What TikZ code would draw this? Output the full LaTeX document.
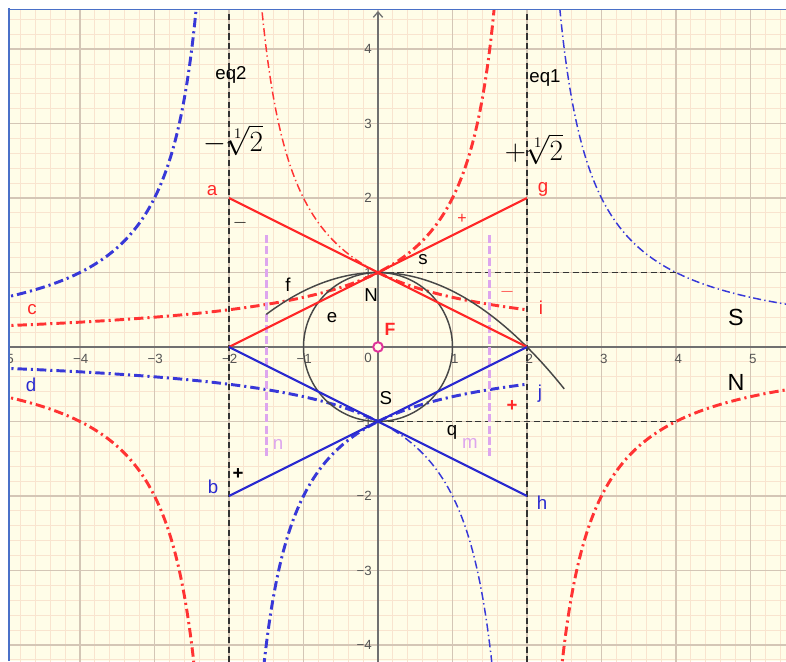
\RequirePackage{fix-cm}
\documentclass[tikz,border=0pt]{standalone}
\usepackage[no-math]{fontspec}
\setmainfont{Liberation Sans}
\usetikzlibrary{arrows.meta}
\definecolor{bgc}{HTML}{FFFDE8}
\definecolor{minorc}{HTML}{F9E4CF}
\definecolor{majorc}{HTML}{D4C6B6}
\definecolor{axisc}{HTML}{707070}
\definecolor{brd}{HTML}{4A70C8}
\definecolor{rc}{HTML}{FF3333}
\definecolor{rl}{HTML}{FF2828}
\definecolor{bc}{HTML}{3838D8}
\definecolor{bl}{HTML}{2A2AD0}
\definecolor{vc}{HTML}{DDA6EE}
\definecolor{fc}{HTML}{E0339A}
\definecolor{dk}{HTML}{333333}
\definecolor{ticc}{HTML}{555555}
\tikzset{
  tick/.style={text=ticc,font=\fontsize{10}{11}\selectfont,inner sep=0pt},
  lbl/.style={font=\fontsize{14}{15}\selectfont,inner sep=0pt},
  biglbl/.style={font=\fontsize{17.5}{18}\selectfont,inner sep=0pt},
  thickdd/.style={line width=2.2pt,dash pattern=on 7pt off 3pt on 1.6pt off 3pt},
  thindd/.style={line width=1.1pt,dash pattern=on 6pt off 2.5pt on 1pt off 2.5pt},
  blkdash/.style={dk,line width=1.4pt,dash pattern=on 4.6pt off 2.7pt},
  viodash/.style={vc,line width=2.3pt,dash pattern=on 6pt off 2.4pt},
  segline/.style={line width=1.6pt},
  curveblk/.style={draw=dk!90!white,line width=1.1pt},
  rootlbl/.style={inner sep=0pt,font=\fontsize{22}{24}\selectfont}
}
\begin{document}
\begin{tikzpicture}[x=55.875pt,y=55.875pt]
\useasboundingbox (-5.0738,-4.2148) rectangle (5.4765,4.6577);
\fill[white] (-5.0738,-4.2148) rectangle (5.4765,4.6577);
\fill[bgc] (-4.953,-4.2148) rectangle (5.4765,4.530);
\begin{scope}
\clip (-4.953,-4.2148) rectangle (5.4765,4.530);
\draw[minorc,line width=0.6pt,step=0.2] (-5.2,-4.4) grid (5.6,4.8);
\draw[majorc,line width=0.8pt,step=1] (-5.2,-4.4) grid (5.6,4.8);
% axes
\draw[axisc,line width=1pt] (-5.2,0) -- (5.6,0);
\draw[axisc,line width=1pt,-{Straight Barb[length=4pt,width=7pt]}] (0,-4.4) -- (0,4.51);
% tick labels
\foreach \v in {1,...,5} \node[tick] at (\v+0.03,-0.165) {\v};
\foreach \v in {1,...,5} \node[tick] at (-\v+0.01,-0.165) {−\v};
\node[tick] at (-0.134,-0.15) {0};
\foreach \v in {1,...,4} \node[tick,anchor=east] at (-0.08,\v) {\v};
\foreach \v in {1,...,4} \node[tick,anchor=east] at (-0.08,-\v) {−\v};
% coordinates
\coordinate (a) at (-2,2);
\coordinate (g) at (2,2);
\coordinate (b) at (-2,-2);
\coordinate (h) at (2,-2);
\coordinate (Np) at (0,1);
\coordinate (Sp) at (0,-1);
\coordinate (Lp) at (-2,0);
\coordinate (Rp) at (2,0);
\coordinate (O) at (0,0);
\coordinate (e2t) at (-2,4.6);
\coordinate (e2b) at (-2,-4.3);
\coordinate (e1t) at (2,4.6);
\coordinate (e1b) at (2,-4.3);
\coordinate (sE) at (4,1);
\coordinate (qE) at (4,-1);
\coordinate (nT) at (-1.5,1.5);
\coordinate (nB) at (-1.5,-1.5);
\coordinate (mT) at (1.5,1.5);
\coordinate (mB) at (1.5,-1.5);
% red dash-dot curves
\draw[rc,thickdd,smooth,samples=200] plot[domain=-5.1:1.575] (\x,{2/(2-\x)});
\draw[rc,thickdd,smooth,samples=60] plot[domain=0:2] (\x,{2/(2+\x)});
\draw[rc,thickdd,smooth,samples=120] plot[domain=-5.1:-2.455] (\x,{2/(2+\x)});
\draw[rc,thickdd,smooth,samples=120] plot[domain=2.455:5.6] (\x,{2/(2-\x)});
\draw[rc,thindd,smooth,samples=120] plot[domain=-1.575:0] (\x,{2/(2+\x)});
% blue dash-dot curves
\draw[bc,thickdd,smooth,samples=120] plot[domain=-5.1:0] (\x,{-2/(2-\x)});
\draw[bc,thickdd,smooth,samples=60] plot[domain=0:2] (\x,{-2/(2+\x)});
\draw[bc,thickdd,smooth,samples=120] plot[domain=-1.535:0] (\x,{-2/(2+\x)});
\draw[bc,thickdd,smooth,samples=120] plot[domain=-5.1:-2.44] (\x,{-2/(2+\x)});
\draw[bc,thindd,smooth,samples=120] plot[domain=0:1.535] (\x,{-2/(2-\x)});
\draw[bc,thindd,smooth,samples=120] plot[domain=2.44:5.6] (\x,{-2/(2-\x)});
% black dashed lines
\draw[blkdash] (e2t) -- (e2b);
\draw[blkdash] (e1t) -- (e1b);
\draw[blkdash] (Np) -- (sE);
\draw[blkdash] (Sp) -- (qE);
% violet dashed
\draw[viodash] (nT) -- (nB);
\draw[viodash] (mT) -- (mB);
% circle and parabola
\draw[curveblk] (O) circle[radius=1];
\draw[curveblk,smooth,samples=80] plot[domain=-1.5:2.5] (\x,{1-\x*\x/4});
% segments
\draw[rl,segline] (a) -- (Rp);
\draw[rl,segline] (Lp) -- (g);
\draw[bl,segline] (Lp) -- (h);
\draw[bl,segline] (b) -- (Rp);
% point F
\draw[fc,line width=1.5pt,fill=bgc] (O) circle[radius=3.6pt];
% labels
\node[lbl] (leq2) at (-1.973,3.651) {eq2};
\node[lbl] (leq1) at (2.242,3.611) {eq1};
\node[rootlbl] (lm) at (-1.946,2.775) {$-\sqrt[1]{2}$};
\node[rootlbl] (lp) at (2.094,2.654) {$+\sqrt[1]{2}$};
\node[lbl,text=rl] (la) at (-2.228,2.094) {a};
\node[lbl,text=rl] (lg) at (2.215,2.121) {g};
\node[inner sep=0pt,font=\fontsize{14}{15}\selectfont] (lmin1) at (-1.852,1.664) {$-$};
\node[inner sep=0pt,text=rl,font=\fontsize{12}{13}\selectfont] (lplus1) at (1.128,1.718) {+};
\node[inner sep=0pt,text=rl,font=\fontsize{14}{15}\selectfont] (lmin2) at (1.732,0.738) {$-$};
\node[lbl,text=rl] (li) at (2.188,0.523) {i};
\node[lbl,text=rl] (lc) at (-4.644,0.497) {c};
\node[lbl] (lf) at (-1.208,0.832) {f};
\node[lbl] (lN) at (-0.094,0.698) {N};
\node[lbl] (le) at (-0.617,0.389) {e};
\node[inner sep=0pt,text=rl,font=\fontsize{13.3}{14}\selectfont\bfseries] (lF) at (0.161,0.242) {F};
\node[biglbl] (lS2) at (4.805,0.403) {S};
\node[biglbl] (lN2) at (4.805,-0.470) {N};
\node[lbl,text=bl] (ld) at (-4.658,-0.510) {d};
\node[lbl] (lS) at (0.107,-0.685) {S};
\node[lbl,text=bl] (lj) at (2.174,-0.631) {j};
\node[inner sep=0pt,text=rl,font=\fontsize{14}{15}\selectfont\bfseries] (lplus2) at (1.799,-0.792) {+};
\node[lbl] (lq) at (0.993,-1.141) {q};
\node[lbl,text=vc] (lmm) at (1.235,-1.289) {m};
\node[lbl,text=vc] (lnn) at (-1.342,-1.315) {n};
\node[inner sep=0pt,font=\fontsize{14}{15}\selectfont\bfseries] (lplus3) at (-1.879,-1.705) {+};
\node[lbl,text=bl] (lb) at (-2.215,-1.879) {b};
\node[lbl,text=bl] (lh) at (2.201,-2.094) {h};
\node[lbl] (ls) at (0.604,1.168) {s};
\end{scope}
% border
\draw[brd,line width=2.2pt] (-4.953,-4.2148) -- (-4.953,4.545);
\draw[brd,line width=1.3pt] (-4.97,4.530) -- (5.4765,4.530);
\end{tikzpicture}
\end{document}
